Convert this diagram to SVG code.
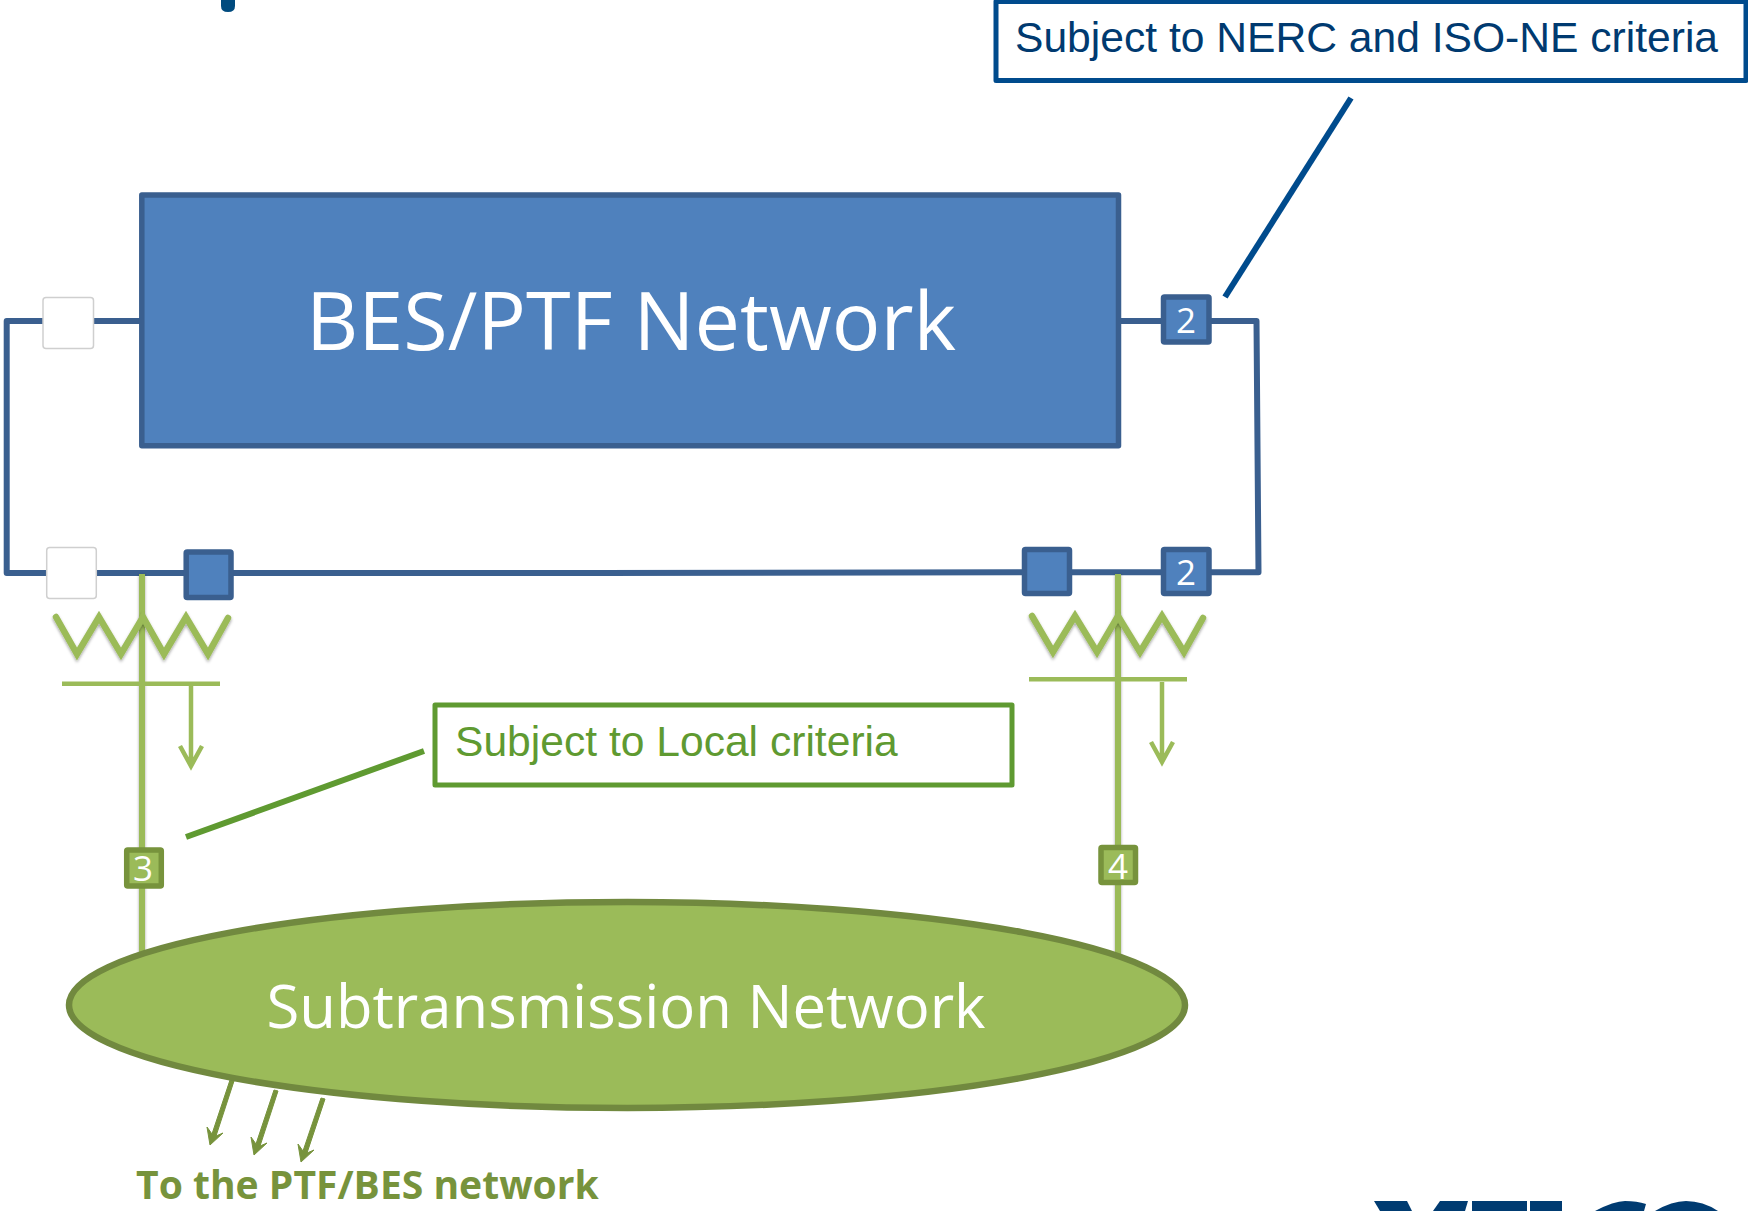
<svg xmlns="http://www.w3.org/2000/svg" width="1748" height="1211" viewBox="0 0 1748 1211">
<defs>
<filter id="sh" x="-30%" y="-30%" width="160%" height="160%"><feDropShadow dx="0" dy="2" stdDeviation="1.800" flood-color="#000" flood-opacity="0.35"/></filter>
<filter id="sh2" filterUnits="userSpaceOnUse" x="0" y="500" width="1300" height="520"><feDropShadow dx="0" dy="1" stdDeviation="1.500" flood-color="#000" flood-opacity="0.35"/></filter>
</defs>
<style>
text{font-family:"Open Sans","Noto Sans",sans-serif}
.callout{font-family:"Liberation Sans",Arial,sans-serif;font-size:42.600px}
.bl{fill:none;stroke:#3a5f8f;stroke-width:6;stroke-linejoin:round}
.gl{fill:none;stroke:#9bbb59;stroke-linejoin:miter}
.sq{fill:#4f81bd;stroke:#3a5f8f;stroke-width:5.500;stroke-linejoin:round}
.wh{fill:#fff;stroke:#cfcfcf;stroke-width:1.500}
.gs{fill:#9bbb59;stroke:#77933c;stroke-width:5.500;stroke-linejoin:round}
.n{fill:#fff;text-anchor:middle;font-size:35px}
</style>
<rect width="1748" height="1211" fill="#fff"/>
<g id="connectors">
<path class="bl" d="M141 321H6.700V573H600L1024 572.300H1258.500L1256.500 321H1120"/>
<path class="bl" d="M1118 321H1165"/>
<path d="M1351 98L1225 297" fill="none" stroke="#004b8d" stroke-width="6"/>
<path d="M424 751L186 837" fill="none" stroke="#5f9a31" stroke-width="6"/>
<g filter="url(#sh2)">
<path class="gl" stroke-width="6" d="M142 574V960"/>
<path class="gl" stroke-width="6" d="M1118 574V960"/>
</g>
<g filter="url(#sh)">
<path class="gl" stroke-width="6.500" stroke-linecap="round" d="M56 617L77 654L99 617L121 654L143 617L164 654L186 617L208 654L228 618"/>
<path class="gl" stroke-width="6.500" stroke-linecap="round" d="M1032 616L1053 652L1075 616L1097 652L1118 616L1140 652L1162 616L1184 652L1203 618"/>
</g>
<path class="gl" stroke-width="4.500" d="M62 683.700H220M191 684V766M180 746L191 766L202 746"/>
<path class="gl" stroke-width="4.500" d="M1029 679.300H1187M1162 682V762M1151 742L1162 762L1173 742"/>
<g fill="#77933c" stroke="#77933c" stroke-width="1" stroke-linejoin="round">
<path d="M230 1080L234 1081L216 1136L223 1133L210 1145L207 1127L212 1134Z"/>
<path d="M274 1090L278 1091L260 1146L267 1143L254 1155L251 1137L256 1144Z"/>
<path d="M321 1098L325 1099L307 1153L314 1150L301 1162L298 1144L303 1151Z"/>
</g>
</g>
<g id="bes"><rect x="141.800" y="195" width="976.700" height="250.800" fill="#4f81bd" stroke="#3a5f8f" stroke-width="5.500" stroke-linejoin="round"/>
<text x="631" y="350" fill="#fff" font-size="81" text-anchor="middle">BES/PTF Network</text></g>
<g id="sub"><ellipse cx="627" cy="1005" rx="558" ry="103" fill="#9bbb59" stroke="#71893f" stroke-width="6.500"/>
<text x="626" y="1028" fill="#fff" font-size="59.800" text-anchor="middle">Subtransmission Network</text></g>
<g id="sw-w1"><rect class="wh" x="43" y="297.500" width="50.500" height="51" rx="3"/></g>
<g id="sw-w2"><rect class="wh" x="46.700" y="547.500" width="49.600" height="51" rx="3"/></g>
<g id="sw-b1"><rect class="sq" x="186.200" y="552" width="44.800" height="45.500" rx="1"/></g>
<g id="sw-b2"><rect class="sq" x="1024.500" y="549.500" width="45" height="44" rx="1"/></g>
<g id="sw-2a"><rect class="sq" x="1163.500" y="297" width="45.500" height="45" rx="1"/><text class="n" x="1186" y="333">2</text></g>
<g id="sw-2b"><rect class="sq" x="1163.500" y="549.500" width="45.500" height="44" rx="1"/><text class="n" x="1186" y="585">2</text></g>
<g id="sw-3"><rect class="gs" x="126.700" y="850" width="34.600" height="36" rx="1"/><text class="n" x="143" y="881">3</text></g>
<g id="sw-4"><rect class="gs" x="1101" y="847.500" width="34.500" height="35" rx="1"/><text class="n" x="1118" y="879">4</text></g>
<g id="note-nerc"><rect x="996" y="1.500" width="750" height="79" fill="#fff" stroke="#004b8d" stroke-width="5" stroke-linejoin="round"/>
<text class="callout" x="1015" y="52" fill="#003a70">Subject to NERC and ISO-NE criteria</text></g>
<g id="note-local"><rect x="435" y="705" width="577" height="80" fill="#fff" stroke="#5f9a31" stroke-width="5" stroke-linejoin="round"/>
<text class="callout" x="455" y="756" fill="#5f9a31">Subject to Local criteria</text></g>
<text x="136" y="1199" font-size="39.100" font-weight="700" fill="#77933c">To the PTF/BES network</text>
<path id="title-frag" d="M221 0H235V6Q235 12 228 12Q221 12 221 6Z" fill="#004b7f"/>
<g id="logo-frag" fill="#003b71">
<path d="M1374 1201H1407L1412 1211H1380Z"/>
<path d="M1440 1201H1468L1465 1211H1433Z"/>
<rect x="1472" y="1201" width="55" height="10"/>
<rect x="1530" y="1201" width="32" height="10"/>
<path d="M1595 1211Q1614 1201 1625 1201Q1637 1201 1646 1204L1644 1211Z"/>
<path d="M1655 1211Q1672 1201 1686 1201Q1703 1201 1718 1211Z"/>
</g>
</svg>
